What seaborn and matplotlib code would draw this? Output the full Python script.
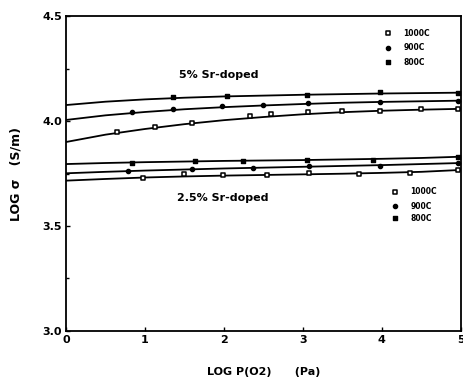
import matplotlib
matplotlib.use("Agg")
import matplotlib.pyplot as plt
import seaborn as sns
import pandas as pd

sns.set_theme(style="ticks")
plt.rcParams['font.family'] = ['DejaVu Sans']
plt.rcParams['text.color'] = 'black'
plt.rcParams['axes.labelcolor'] = 'black'
plt.rcParams['xtick.color'] = 'black'
plt.rcParams['ytick.color'] = 'black'
plt.rcParams['axes.edgecolor'] = 'black'

# ---- data ----
# 5% Sr-doped markers
x5_800 = [1.35, 2.04, 3.05, 3.97, 4.96]
y5_800 = [4.114, 4.119, 4.125, 4.136, 4.135]
x5_900 = [0.84, 1.35, 1.97, 2.50, 3.06, 3.97, 4.96]
y5_900 = [4.041, 4.057, 4.071, 4.078, 4.086, 4.092, 4.097]
x5_1000 = [0.65, 1.13, 1.59, 2.33, 2.60, 3.06, 3.49, 3.97, 4.50, 4.96]
y5_1000 = [3.946, 3.973, 3.992, 4.024, 4.032, 4.044, 4.049, 4.048, 4.056, 4.058]
# 2.5% Sr-doped markers
x25_800 = [0.84, 1.63, 2.24, 3.05, 3.89, 4.96]
y25_800 = [3.801, 3.810, 3.810, 3.814, 3.814, 3.830]
x25_900 = [0.79, 1.59, 2.37, 3.08, 3.97, 4.96]
y25_900 = [3.763, 3.770, 3.775, 3.786, 3.786, 3.800]
x25_1000 = [0.97, 1.49, 1.99, 2.54, 3.08, 3.71, 4.36, 4.96]
y25_1000 = [3.727, 3.746, 3.745, 3.745, 3.751, 3.748, 3.754, 3.767]

# fitted curves
cx = [0.0, 0.5, 1.0, 1.5, 2.0, 2.5, 3.0, 3.5, 4.0, 4.5, 5.0]
c5_800 = [4.076, 4.092, 4.103, 4.111, 4.117, 4.121, 4.125, 4.128, 4.131, 4.133, 4.135]
c5_900 = [4.005, 4.027, 4.043, 4.056, 4.066, 4.074, 4.081, 4.087, 4.091, 4.094, 4.097]
c5_1000 = [3.900, 3.935, 3.962, 3.985, 4.004, 4.019, 4.032, 4.042, 4.049, 4.054, 4.058]
c25_800 = [3.795, 3.800, 3.804, 3.807, 3.810, 3.812, 3.814, 3.817, 3.820, 3.824, 3.830]
c25_900 = [3.751, 3.758, 3.764, 3.769, 3.774, 3.778, 3.782, 3.786, 3.790, 3.795, 3.800]
c25_1000 = [3.716, 3.724, 3.731, 3.736, 3.740, 3.743, 3.746, 3.749, 3.753, 3.758, 3.767]

legend_labels = ["1000C", "900C", "800C"]
x_ticks = [0, 1, 2, 3, 4, 5]
y_ticks = [3.0, 3.5, 4.0, 4.5]

fig = plt.figure(figsize=(4.63, 3.86), dpi=100)
ax = fig.add_axes([0.1425, 0.1425, 0.853, 0.816])

for c in [c5_800, c5_900, c5_1000, c25_800, c25_900, c25_1000]:
    sns.lineplot(x=cx, y=c, ax=ax, color="black", lw=1.3, legend=False)

def marks(xs, ys, kind):
    if kind == "open":
        ax.scatter(xs, ys, marker="s", s=10, facecolor="white", edgecolor="black", linewidth=1.1, zorder=3)
    elif kind == "circ":
        ax.scatter(xs, ys, marker="o", s=9, color="black", zorder=3)
    else:
        ax.scatter(xs, ys, marker="s", s=12, color="black", zorder=3)

marks(x5_800, y5_800, "sq")
marks(x5_900, y5_900, "circ")
marks(x5_1000, y5_1000, "open")
marks(x25_800, y25_800, "sq")
marks(x25_900, y25_900, "circ")
marks(x25_1000, y25_1000, "open")

ax.set_xlim(0, 5)
ax.set_ylim(3.0, 4.5)
ax.set_xticks(x_ticks)
ax.set_xticklabels([str(t) for t in x_ticks], fontsize=8, fontweight="bold")
ax.set_yticks(y_ticks)
ax.set_yticklabels([f"{t:.1f}" for t in y_ticks], fontsize=8, fontweight="bold")
ax.set_yticks([3.25, 3.75, 4.25], minor=True)
ax.tick_params(direction="in", length=3, width=1, pad=3)
ax.tick_params(which="minor", direction="in", length=2, width=1)
for s in ax.spines.values():
    s.set_linewidth(1.3)
    s.set_visible(True)

ax.set_xlabel("LOG P(O2)      (Pa)", fontsize=8, fontweight="bold", labelpad=16)
ax.set_ylabel("LOG σ   (S/m)", fontsize=9, fontweight="bold", labelpad=14)

# annotations
ax.text(1.93, 4.219, "5% Sr-doped", fontsize=8, fontweight="bold", ha="center", va="center")
ax.text(1.99, 3.633, "2.5% Sr-doped", fontsize=8, fontweight="bold", ha="center", va="center")

# in-plot legends
def legend_block(x0, ys):
    kinds = ["open", "circ", "sq"]
    for yy, k, lab in zip(ys, kinds, legend_labels):
        marks([x0], [yy], k)
        ax.text(x0 + 0.19, yy, lab, fontsize=5.5, fontweight="bold", va="center", ha="left")

legend_block(4.08, [4.419, 4.348, 4.281])
legend_block(4.17, [3.663, 3.595, 3.538])

fig.savefig("out.png", dpi=100)
